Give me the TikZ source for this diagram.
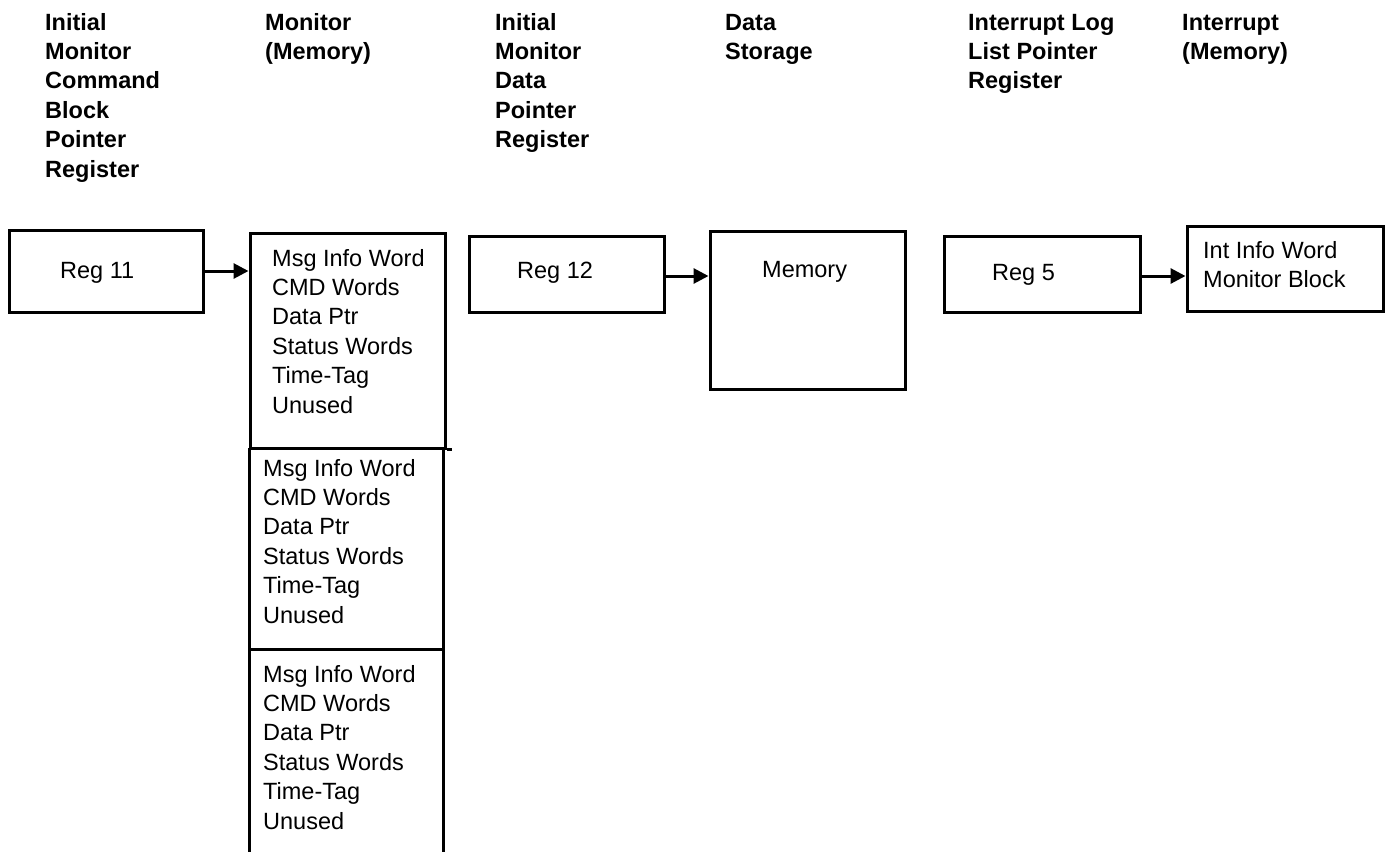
\documentclass[tikz,border=0pt]{standalone}
\usepackage{fontspec}
\setmainfont{Liberation Sans}
\usetikzlibrary{arrows.meta}
\begin{document}
\begin{tikzpicture}[x=1pt,y=-1pt,
  box/.style={draw,line width=3pt,rectangle,inner sep=0pt},
  hdr/.style={anchor=base west,align=left,inner sep=0pt,font=\fontsize{23.5}{29.4}\selectfont\bfseries},
  txt/.style={anchor=base west,align=left,inner sep=0pt,font=\fontsize{23.5}{29.4}\selectfont},
  wall/.style={line width=3pt},
  arr/.style={line width=3pt,-{Triangle[length=15pt,width=15pt]}},
]
\useasboundingbox (0,0) rectangle (1386,852);

% headers (anchored at the baseline of their last line)
\node[hdr] (h1) at (45,177) {Initial\\Monitor\\Command\\Block\\Pointer\\Register};
\node[hdr] (h2) at (265,59.4) {Monitor\\(Memory)};
\node[hdr] (h3) at (495,147.6) {Initial\\Monitor\\Data\\Pointer\\Register};
\node[hdr] (h4) at (725,59.4) {Data\\Storage};
\node[hdr] (h5) at (968,88.8) {Interrupt Log\\List Pointer\\Register};
\node[hdr] (h6) at (1182,59.4) {Interrupt\\(Memory)};

% boxes
\node[box,minimum width=194pt,minimum height=82pt] (r11) at (106,271) {};
\node[box,minimum width=195pt,minimum height=215pt] (mon1) at (347.5,340.5) {};
\node[box,minimum width=195pt,minimum height=76pt] (r12) at (566.5,274) {};
\node[box,minimum width=195pt,minimum height=158pt] (mem) at (807.5,310) {};
\node[box,minimum width=196pt,minimum height=76pt] (r5) at (1042,274) {};
\node[box,minimum width=196pt,minimum height=85pt] (int) at (1285,268.5) {};

% monitor column continuation
\draw[wall] (mon1.south east) -- ++(5,0);
\draw[wall] (249,448) -- (249,852);
\draw[wall] (443,448) -- (443,852);
\draw[wall] (249,649) -- (443,649);

% box texts
\node[txt] (t11) at (60,278) {Reg 11};
\node[txt] (t12) at (517,278) {Reg 12};
\node[txt] (tmem) at (762,277) {Memory};
\node[txt] (t5) at (992,280) {Reg 5};
\node[txt] (tint) at (1203,287.4) {Int Info Word\\Monitor Block};
\node[txt] (m1) at (272,413) {Msg Info Word\\CMD Words\\Data Ptr\\Status Words\\Time-Tag\\Unused};
\node[txt] (m2) at (263,623) {Msg Info Word\\CMD Words\\Data Ptr\\Status Words\\Time-Tag\\Unused};
\node[txt] (m3) at (263,829) {Msg Info Word\\CMD Words\\Data Ptr\\Status Words\\Time-Tag\\Unused};

% arrows
\draw[arr] (r11.east) -- (r11.east -| mon1.west);
\draw[arr] ([yshift=-2pt]r12.east) -- ([yshift=-2pt]r12.east -| mem.west);
\draw[arr] ([yshift=-2pt]r5.east) -- ([yshift=-2pt]r5.east -| int.west);
\end{tikzpicture}
\end{document}
